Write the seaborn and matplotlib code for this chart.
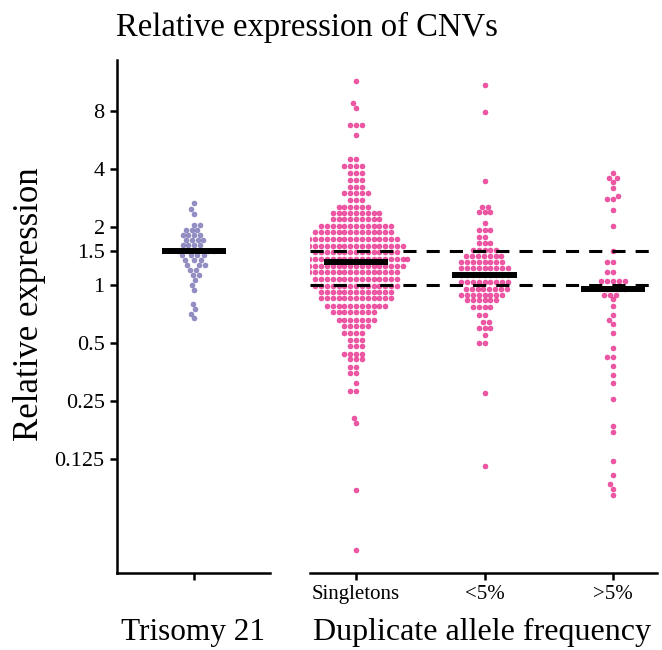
import numpy as np
import pandas as pd
import matplotlib
matplotlib.use('Agg')
import matplotlib.pyplot as plt
import seaborn as sns

# Beeswarm rows: relative expression of a row and how many dots sit in it
trisomy_values = [2.66, 2.48, 2.34, 2.05, 1.93, 1.82, 1.71, 1.61, 1.5, 1.43, 1.35, 1.27,
                  1.2, 1.13, 1.06, 1.0, 0.94, 0.8, 0.75, 0.71, 0.67]
trisomy_counts = [1, 1, 1, 2, 3, 4, 4, 4, 4, 4, 3, 3, 2, 2, 1, 1, 1, 1, 1, 1, 1]

singleton_values = [11.4, 8.82, 8.34, 6.77, 6.0,
                    4.51, 4.15, 3.81, 3.51, 3.23, 3.0, 2.76, 2.54, 2.36, 2.2,
                    2.02, 1.88, 1.73, 1.59, 1.48, 1.36, 1.26, 1.17, 1.07, 0.99,
                    0.92, 0.85, 0.78, 0.72, 0.66, 0.61, 0.56, 0.52, 0.48, 0.44,
                    0.41, 0.375, 0.35, 0.31, 0.28,
                    0.204, 0.192, 0.086, 0.042]
singleton_counts = [1, 1, 1, 3, 1,
                    2, 4, 3, 3, 3, 5, 3, 6, 9, 9,
                    13, 14, 16, 17, 15, 19, 17, 16, 15, 15,
                    13, 13, 11, 8, 7, 5, 4, 3, 3, 4,
                    3, 2, 2, 1, 2,
                    1, 1, 1, 1]

rare_values = [10.9, 7.91, 3.47, 2.54, 2.39, 2.1, 1.93, 1.77, 1.65, 1.52, 1.41, 1.32,
               1.23, 1.13, 1.04, 0.95, 0.89, 0.83, 0.77, 0.7, 0.64, 0.6, 0.55, 0.5,
               0.275, 0.115]
rare_counts = [1, 1, 1, 2, 3, 1, 3, 2, 3, 5, 7, 8,
               9, 9, 9, 8, 8, 6, 4, 2, 2, 3, 1, 2,
               1, 1]

common_values = [3.81, 3.59, 3.42, 3.19, 2.9, 2.79, 2.45, 2.02, 1.5, 1.32, 1.17, 1.05,
                 0.95, 0.89, 0.84, 0.78, 0.7, 0.66, 0.63, 0.56, 0.47, 0.42, 0.38, 0.34,
                 0.31, 0.256, 0.185, 0.173, 0.122, 0.103, 0.092, 0.087, 0.081]
common_counts = [1, 2, 1, 1, 1, 2, 1, 1, 1, 2, 2, 5,
                 4, 3, 1, 1, 1, 1, 1, 1, 1, 2, 1, 1,
                 1, 1, 1, 1, 1, 1, 1, 1, 1]

freq_groups = ['Singletons', '<5%', '>5%']
y_ticks = [0.125, 0.25, 0.5, 1, 1.5, 2, 4, 8]
y_tick_labels = ['0.125', '0.25', '0.5', '1', '1.5', '2', '4', '8']
ref_lines = [1, 1.5]

PURPLE = '#7570B3'
PINK = '#E7298A'

tri_df = pd.DataFrame({'group': 'Trisomy 21',
                       'value': np.repeat(trisomy_values, trisomy_counts)})
dup_df = pd.concat([
    pd.DataFrame({'group': g, 'value': np.repeat(v, c)})
    for g, v, c in zip(freq_groups,
                       [singleton_values, rare_values, common_values],
                       [singleton_counts, rare_counts, common_counts])
], ignore_index=True)

sns.set_style('ticks')
plt.rcParams['font.family'] = ['Liberation Serif', 'DejaVu Serif']
plt.rcParams['text.color'] = 'black'
plt.rcParams['axes.labelcolor'] = 'black'
plt.rcParams['axes.edgecolor'] = 'black'

fig = plt.figure(figsize=(6.62, 6.5), dpi=100)
ax_l = fig.add_axes([0.177, 0.1185, 0.231, 0.789])
ax_r = fig.add_axes([0.468, 0.1185, 0.524, 0.789])

median_kw = dict(width=0.5, showbox=False, showcaps=False, showfliers=False,
                 whiskerprops={'visible': False},
                 medianprops={'color': 'black', 'linewidth': 4.3, 'zorder': 5})

for ax, df, col, order in [(ax_l, tri_df, PURPLE, ['Trisomy 21']),
                           (ax_r, dup_df, PINK, freq_groups)]:
    ax.set_yscale('log', base=2)
    sns.swarmplot(data=df, x='group', y='value', order=order, ax=ax, color=col,
                  size=3.6, alpha=0.78, linewidth=0.4, edgecolor=col, zorder=2)
    sns.boxplot(data=df, x='group', y='value', order=order, ax=ax, **median_kw)
    ax.set_ylim(0.0319, 14.7)
    ax.set_xlabel('')
    ax.set_ylabel('')
    ax.tick_params(axis='both', direction='out', length=5, width=1.8,
                   colors='black', labelcolor='black', pad=4)
    for s in ['top', 'right']:
        ax.spines[s].set_visible(False)
    ax.spines['bottom'].set_linewidth(1.8)
    ax.spines['left'].set_linewidth(1.8)

# dashed guides at 1 and 1.5 across the allele-frequency panel
for v in ref_lines:
    ax_r.axhline(v, color='black', linestyle=(0, (4.3, 3.3)), linewidth=2.2, zorder=4)

ax_l.set_xlim(-0.6, 0.59)
ax_l.set_xticks([0])
ax_l.set_xticklabels([''])
ax_l.set_yticks(y_ticks)
ax_l.set_yticklabels(y_tick_labels, fontsize=16)
ax_l.minorticks_off()

ax_r.set_xlim(-0.36, 2.34)
ax_r.set_yticks([])
ax_r.minorticks_off()
ax_r.set_xticks(range(len(freq_groups)))
ax_r.set_xticklabels(freq_groups, fontsize=15)
ax_r.spines['left'].set_visible(False)

fig.text(0.464, 0.945, 'Relative expression of CNVs', ha='center', va='baseline', fontsize=23.5)
fig.text(0.045, 0.532, 'Relative expression', rotation=90, ha='center', va='center', fontsize=25)
fig.text(0.291, 0.016, 'Trisomy 21', ha='center', va='baseline', fontsize=22.5)
fig.text(0.728, 0.016, 'Duplicate allele frequency', ha='center', va='baseline', fontsize=23)

fig.savefig('out.png', dpi=100)
